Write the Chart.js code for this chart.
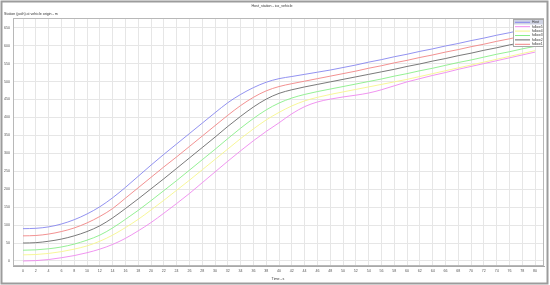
<!DOCTYPE html>
<html>
<head>
<meta charset="utf-8">
<script src="https://cdn.jsdelivr.net/npm/chart.js@4/dist/chart.umd.min.js"></script>
<style>
  html, body { margin: 0; padding: 0; background: #fff; }
  canvas { display: block; }
</style>
</head>
<body>
<canvas id="chart" width="550" height="285"></canvas>
<script>
// Time axis (s)
const times = [0, 2, 4, 6, 8, 10, 12, 14, 16, 18, 20, 22, 24, 26, 28, 30, 32, 34, 36, 38, 40,
  42, 44, 46, 48, 50, 52, 54, 56, 58, 60, 62, 64, 66, 68, 70, 72, 74, 76, 78, 80];

// Station (path) at vehicle origin (m)
const host = [90, 91, 95, 103, 115, 131, 151, 176, 205, 236, 267, 297, 326, 355, 384, 413, 441, 464, 483, 498, 508,
  514, 520, 526, 532, 539, 546, 554, 561, 569, 576, 584, 591, 599, 606, 614, 621, 629, 636, 644, 651];
const follow1 = [70, 71, 75, 82, 92, 106, 124, 146, 175, 204, 233, 262, 290, 319, 348, 377, 406, 433, 456, 474, 486,
  494, 501, 508, 515, 522, 529, 537, 544, 552, 559, 567, 574, 582, 589, 597, 604, 612, 619, 627, 634];
const follow2 = [50, 51, 55, 61, 70, 82, 98, 120, 146, 173, 201, 229, 258, 287, 316, 345, 375, 403, 429, 451, 467,
  477, 485, 492, 499, 506, 513, 520, 527, 534, 542, 549, 557, 564, 572, 579, 587, 594, 602, 609, 617];
const follow3 = [30, 31, 34, 39, 47, 58, 72, 92, 116, 141, 168, 196, 224, 253, 282, 311, 341, 370, 397, 421, 440,
  454, 464, 472, 479, 486, 493, 500, 507, 515, 522, 530, 537, 545, 553, 560, 568, 576, 583, 591, 598];
const follow4 = [17, 18, 21, 26, 33, 42, 55, 72, 93, 116, 142, 169, 197, 225, 254, 283, 312, 341, 368, 393, 414,
  432, 446, 456, 464, 471, 478, 485, 492, 499, 506, 514, 522, 530, 538, 546, 554, 562, 570, 578, 586];
const follow5 = [0, 1, 4, 9, 15, 23, 33, 46, 63, 84, 107, 133, 160, 188, 218, 248, 278, 307, 335, 361, 385,
  410, 430, 443, 451, 457, 462, 468, 477, 488, 499, 508, 517, 525, 534, 542, 550, 558, 566, 574, 582];

const seriesNames = ['Host', 'follow1', 'follow2', 'follow3', 'follow4', 'follow5'];
const seriesValues = [host, follow1, follow2, follow3, follow4, follow5];
const seriesColors = ['#8686ee', '#f08484', '#6a6a6a', '#88ee88', '#f6f68c', '#ee88ee'];
const legendOrder = [0, 5, 4, 3, 2, 1];

const FONT = "'Liberation Sans', Arial, sans-serif";

const chrome = {
  id: 'chrome',
  beforeDraw(chart) {
    const ctx = chart.ctx;
    ctx.save();
    ctx.fillStyle = '#fff';
    ctx.fillRect(0, 0, chart.width, chart.height);
    ctx.restore();
  },
  afterDraw(chart) {
    const ctx = chart.ctx;
    const a = chart.chartArea;
    ctx.save();

    // plot frame
    ctx.strokeStyle = '#b8b8b8';
    ctx.lineWidth = 1;
    ctx.strokeRect(a.left + 0.5, a.top + 0.5, a.right - a.left - 1, a.bottom - a.top - 1);

    // outer frame
    ctx.strokeStyle = '#9c9c9c';
    ctx.lineWidth = 2;
    ctx.strokeRect(1.5, 1.5, chart.width - 4, chart.height - 3);

    // titles
    ctx.fillStyle = '#333';
    ctx.textBaseline = 'middle';
    ctx.font = '3.6px ' + FONT;
    ctx.textAlign = 'center';
    ctx.fillText('Host_station - ico_vehicle', 272, 6);
    ctx.fillText('Time - s', 278, 279);
    ctx.textAlign = 'left';
    ctx.fillText('Station (path) at vehicle origin - m', 4, 13.5);

    // legend
    const lx = 513, ly = 19, lw = 30, lh = 27;
    ctx.fillStyle = '#fff';
    ctx.fillRect(lx, ly, lw, lh);
    ctx.strokeStyle = '#a8a8a8';
    ctx.lineWidth = 1;
    ctx.strokeRect(lx + 0.5, ly + 0.5, lw, lh);
    ctx.fillStyle = '#cfd3e3';
    ctx.fillRect(lx + 1, ly + 1, lw - 1, 4.5);
    ctx.font = '3.4px ' + FONT;
    legendOrder.forEach((idx, row) => {
      const y = ly + 3.3 + row * 4.4;
      ctx.strokeStyle = seriesColors[idx];
      ctx.lineWidth = 1;
      ctx.beginPath();
      ctx.moveTo(lx + 2, y);
      ctx.lineTo(lx + 17, y);
      ctx.stroke();
      ctx.fillStyle = '#333';
      ctx.fillText(seriesNames[idx], lx + 19, y);
    });
    ctx.restore();
  }
};

new Chart(document.getElementById('chart'), {
  type: 'line',
  data: {
    labels: times,
    datasets: seriesNames.map((name, i) => ({
      label: name,
      data: times.map((t, j) => ({ x: t, y: seriesValues[i][j] })),
      borderColor: seriesColors[i],
      borderWidth: 0.9,
      pointRadius: 0,
      fill: false,
      tension: 0.4,
      cubicInterpolationMode: 'monotone'
    }))
  },
  options: {
    responsive: false,
    devicePixelRatio: 1,
    animation: false,
    layout: { padding: { top: 18, right: 6, bottom: 0, left: 0 } },
    plugins: {
      legend: { display: false },
      title: { display: false },
      tooltip: { enabled: false }
    },
    scales: {
      x: {
        type: 'linear',
        min: -1.5625,
        max: 81.4,
        afterFit(scale) { scale.height = 19; },
        border: { display: true, color: '#a8a8a8' },
        grid: { color: '#e6e6e6', lineWidth: 1, drawTicks: false },
        ticks: {
          stepSize: 2,
          includeBounds: false,
          autoSkip: false,
          maxRotation: 0,
          padding: 3,
          color: '#555',
          font: { family: FONT, size: 3.6 }
        }
      },
      y: {
        type: 'linear',
        min: -14,
        max: 677,
        afterFit(scale) { scale.width = 13; },
        border: { display: true, color: '#a8a8a8' },
        grid: { color: '#e6e6e6', lineWidth: 1, drawTicks: false },
        ticks: {
          stepSize: 50,
          includeBounds: false,
          padding: 3,
          color: '#555',
          font: { family: FONT, size: 3.6 }
        }
      }
    }
  },
  plugins: [chrome]
});
</script>
</body>
</html>
